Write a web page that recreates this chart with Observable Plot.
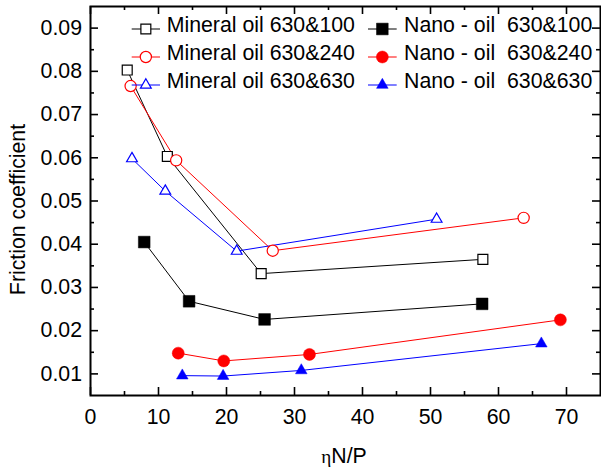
<!DOCTYPE html>
<html><head><meta charset="utf-8">
<script src="https://cdn.jsdelivr.net/npm/d3@7"></script>
<script src="https://cdn.jsdelivr.net/npm/@observablehq/plot@0.6"></script>
<style>
html,body{margin:0;padding:0;background:#fff;}
#chart{position:relative;width:601px;height:469px;overflow:hidden;}
#chart svg{position:absolute;left:0;top:0;}
svg text{font-family:"Liberation Sans",Arial,sans-serif;}
</style></head><body><div id="chart"></div>
<script>
// ---- data ----
const seriesNames = ["Mineral oil 630&100","Mineral oil 630&240","Mineral oil 630&630",
                     "Nano - oil  630&100","Nano - oil  630&240","Nano - oil  630&630"];
const xMin100 = [5.4, 11.3, 25.1, 57.7];
const yMin100 = [0.0803, 0.0603, 0.0332, 0.0365];
const xMin240 = [5.9, 12.6, 26.8, 63.7];
const yMin240 = [0.0766, 0.0594, 0.0385, 0.0461];
const xMin630 = [6.1, 11.0, 21.5, 50.9];
const yMin630 = [0.0598, 0.0523, 0.0384, 0.0458];
const xNano100 = [7.9, 14.5, 25.6, 57.6];
const yNano100 = [0.0405, 0.0268, 0.0226, 0.0262];
const xNano240 = [12.9, 19.6, 32.2, 69.1];
const yNano240 = [0.0148, 0.0130, 0.0145, 0.0225];
const xNano630 = [13.5, 19.5, 31.0, 66.3];
const yNano630 = [0.0096, 0.0095, 0.0108, 0.0170];
const xTicks = [0,10,20,30,40,50,60,70];
const xMinorTicks = [5,15,25,35,45,55,65];
const yTicks = [0.01,0.02,0.03,0.04,0.05,0.06,0.07,0.08,0.09];
const yMinorTicks = [0.015,0.025,0.035,0.045,0.055,0.065,0.075,0.085];
const xTitleGreek = "η";
const xTitleRest = "N/P";
const yTitle = "Friction coefficient";

// ---- styling ----
const colors = ["#000000","#ff0000","#0000ff","#000000","#ff0000","#0000ff"];
const symbols = ["square","circle","triangle","square","circle","triangle"];
const filled = [false,false,false,true,true,true];
const radii = [5.6,5.6,4.0,6.6,6.0,4.3];

const xs = [xMin100,xMin240,xMin630,xNano100,xNano240,xNano630];
const ys = [yMin100,yMin240,yMin630,yNano100,yNano240,yNano630];
const series = seriesNames.map((name,i) => ({
  name, color: colors[i], symbol: symbols[i], filled: filled[i], r: radii[i],
  data: xs[i].map((x,j) => ({x, y: ys[i][j]}))
}));

const W = 601, H = 469, ML = 90, MR = 1, MT = 6, MB = 74;
const PW = W - ML - MR, PH = H - MT - MB;
const FS = 21.3;
const marks = [];
series.forEach(s => marks.push(Plot.line(s.data, {x:"x", y:"y", stroke:s.color, strokeWidth:1})));
series.forEach(s => marks.push(Plot.dot(s.data, {x:"x", y:"y", symbol:s.symbol, r:s.r,
  stroke:s.color, strokeWidth: s.filled ? 0.5 : 1.2, fill: s.filled ? s.color : "white"})));

const tk = {stroke:"black", strokeWidth:1.6};
const chart = Plot.plot({
  width: W, height: H,
  marginLeft: ML, marginRight: MR, marginTop: MT, marginBottom: MB,
  style: {fontFamily:'"Liberation Sans", Arial, sans-serif', fontSize: FS+"px", background:"white", color:"black"},
  x: {domain:[0,75]},
  y: {domain:[0.005,0.095]},
  marks: [
    // labels
    Plot.axisX(xTicks, {anchor:"bottom", tickSize:0, tickPadding:13.5, tickFormat:d=>String(d), label:null, fontSize:FS}),
    Plot.axisY(yTicks, {anchor:"left", tickSize:0, tickPadding:8.5, tickFormat:d3.format(".2f"), label:null, fontSize:FS}),
    // inward ticks on four sides
    Plot.ruleX(xTicks, {x:d=>d, insetTop: PH-8, ...tk}),
    Plot.ruleX(xMinorTicks, {x:d=>d, insetTop: PH-4, ...tk}),
    Plot.ruleX(xTicks, {x:d=>d, insetBottom: PH-8, ...tk}),
    Plot.ruleX(xMinorTicks, {x:d=>d, insetBottom: PH-4, ...tk}),
    Plot.ruleY(yTicks, {y:d=>d, insetRight: PW-8, ...tk}),
    Plot.ruleY(yMinorTicks, {y:d=>d, insetRight: PW-4, ...tk}),
    Plot.ruleY(yTicks, {y:d=>d, insetLeft: PW-8, ...tk}),
    Plot.ruleY(yMinorTicks, {y:d=>d, insetLeft: PW-4, ...tk}),
    ...marks,
    Plot.frame({stroke:"black", strokeWidth:2})
  ]
});
document.getElementById("chart").appendChild(chart);

const svg = d3.select(chart);
const xt = svg.append("text").attr("x", 344).attr("y", 462.5).attr("text-anchor","middle")
  .attr("font-size", FS).attr("fill","black");
xt.append("tspan").attr("font-family",'"Liberation Serif","DejaVu Serif",serif').attr("font-size", FS*0.9).text(xTitleGreek);
xt.append("tspan").text(xTitleRest);
svg.append("text").attr("transform","translate(25,209.5) rotate(-90)").attr("text-anchor","middle")
  .attr("font-size", FS).attr("fill","black").text(yTitle);

// legend
const lg = svg.append("g").attr("text-anchor","start");
const colX = [[131.7,160,166.7],[368,396.7,404]];
const rowBase = [31.5, 59.5, 87.5];
series.forEach((s,i) => {
  const c = colX[Math.floor(i/3)], yb = rowBase[i%3], ym = yb - 2.5;
  lg.append("line").attr("x1",c[0]).attr("x2",c[1]).attr("y1",ym).attr("y2",ym)
    .attr("stroke",s.color).attr("stroke-width",1);
  const sym = {square:d3.symbolSquare, circle:d3.symbolCircle, triangle:d3.symbolTriangle}[s.symbol];
  lg.append("path").attr("d", d3.symbol(sym, Math.PI*s.r*s.r)())
    .attr("transform",`translate(${(c[0]+c[1])/2},${ym})`)
    .attr("fill", s.filled ? s.color : "white").attr("stroke", s.color)
    .attr("stroke-width", s.filled ? 0.5 : 1.2);
  lg.append("text").attr("x",c[2]).attr("y",yb).attr("font-size",FS).attr("fill","black")
    .attr("text-anchor","start").attr("xml:space","preserve").style("white-space","pre").text(s.name);
});
</script>
</body></html>
